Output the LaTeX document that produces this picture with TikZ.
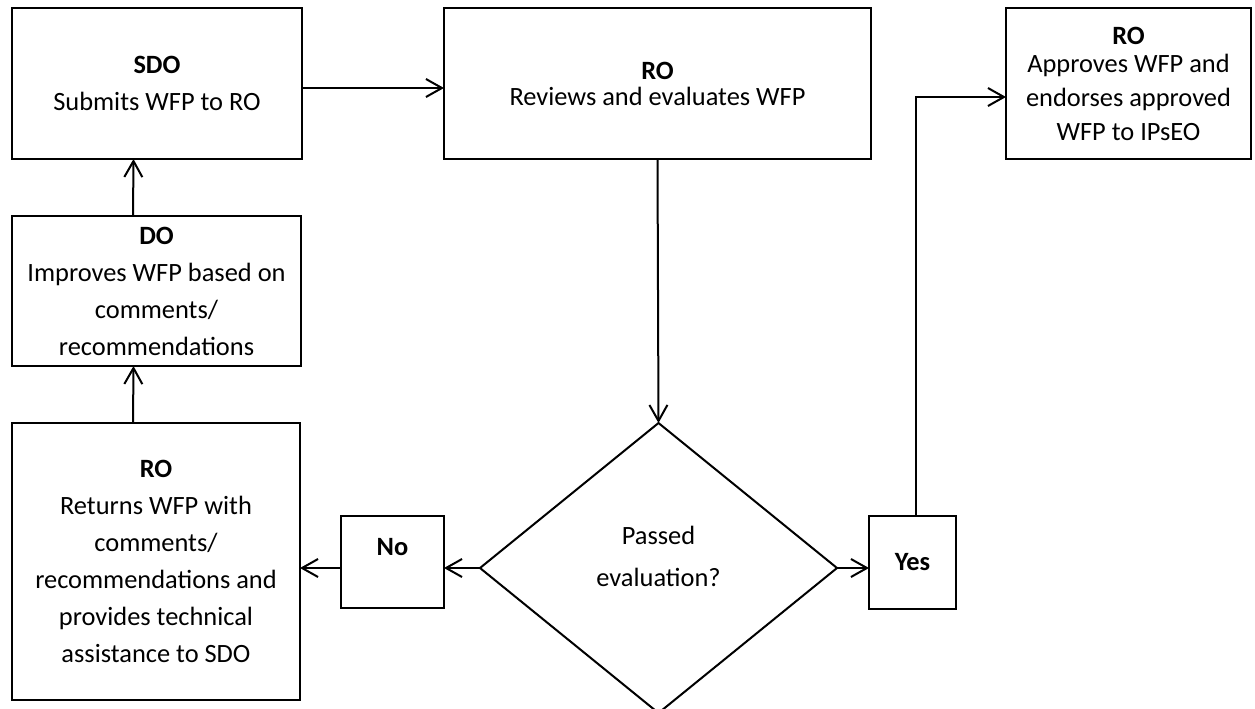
\documentclass[tikz,border=0pt]{standalone}
\usepackage{fontspec}
\setmainfont{Carlito}
\usetikzlibrary{arrows.meta,shapes.geometric,calc}
\tikzset{
  stepbox/.style={draw, line width=0.6pt, align=center, inner sep=0pt,
    outer sep=0pt, font=\fontsize{13.2}{18.5}\selectfont},
  decision/.style={diamond, draw, line width=1pt, inner sep=0pt,
    outer sep=0pt, minimum width=178.5pt, minimum height=145pt},
  flow/.style={line width=1pt,
    -{Straight Barb[length=8pt,width=9pt,line width=1pt]}},
}

\begin{document}
\begin{tikzpicture}[x=0.5pt, y=-0.5pt]
\useasboundingbox (0,0) rectangle (1255,708);
% top row
\node[stepbox, minimum width=145pt, minimum height=75.5pt] (submit)
  at (157,83.5) {\textbf{SDO}\\Submits WFP to RO};
\node[stepbox, minimum width=213.5pt, minimum height=75.5pt] (review)
  at (657.5,83.5) {\textbf{RO}\\[-5.5pt]Reviews and evaluates WFP};
\node[stepbox, minimum width=122.5pt, minimum height=75.5pt] (approve)
  at (1128.5,83.5)
  {\textbf{RO}\\[-4.5pt]Approves WFP and\\[-1.5pt]endorses approved\\[-1.5pt]WFP to IPsEO};
% left column
\node[stepbox, minimum width=144.5pt, minimum height=75pt] (improve)
  at (156.5,291)
  {\textbf{DO}\\Improves WFP based on\\comments/\\recommendations};
\node[stepbox, minimum width=144pt, minimum height=138.5pt] (giveback)
  at (156,561.5)
  {\textbf{RO}\\Returns WFP with\\comments/\\recommendations and\\provides technical\\assistance to SDO};
% decision and answers
\node[decision, label={[font=\fontsize{13.2}{21}\selectfont, align=center,
  yshift=6pt]center:Passed\\evaluation?}] (evalq) at (658.5,568) {};
\node[stepbox, minimum width=51.5pt, minimum height=46pt, text height=9pt,
  text depth=15.5pt] (nobox) at (392.5,562) {\textbf{No}};
\node[stepbox, minimum width=43.5pt, minimum height=46.5pt] (yesbox)
  at (912.5,562.5) {\textbf{Yes}};
% connectors
\draw[flow] ([yshift=-2.25pt]submit.east) -- ([yshift=-2.25pt]review.west);
\draw[flow] (review.south) -- (evalq.north);
\draw[flow] (evalq.east) -- (evalq.east -| yesbox.west);
\draw[flow] (evalq.west) -- (evalq.west -| nobox.east);
\draw[flow] (nobox.west |- evalq.west) -- (giveback.east |- evalq.west);
\draw[flow] ([xshift=-11.5pt]giveback.north) -- ([xshift=-11.5pt]improve.south);
\draw[flow] ([xshift=-11.75pt]improve.north) -- ([xshift=-11.75pt]submit.south);
\draw[flow] ([xshift=1.75pt]yesbox.north) |- ([yshift=-6.75pt]approve.west);
\end{tikzpicture}
\end{document}
